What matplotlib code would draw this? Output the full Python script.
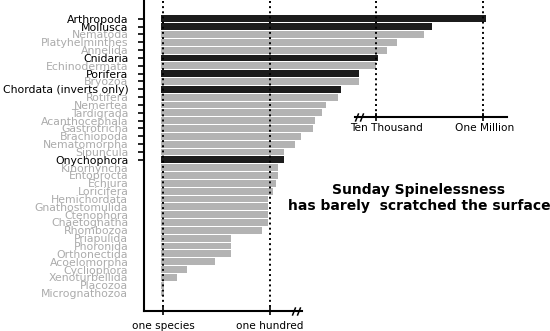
import numpy as np
import matplotlib
matplotlib.use('Agg')
import matplotlib.pyplot as plt
from matplotlib.path import Path

phyla = ['Arthropoda', 'Mollusca', 'Nematoda', 'Platyhelminthes', 'Annelida',
         'Cnidaria', 'Echinodermata', 'Porifera', 'Bryozoa', 'Chordata (inverts only)',
         'Rotifera', 'Nemertea', 'Tardigrada', 'Acanthocephala', 'Gastrotricha',
         'Brachiopoda', 'Nematomorpha', 'Sipuncula', 'Onychophora', 'Kinorhyncha',
         'Entoprocta', 'Echiura', 'Loricifera', 'Hemichordata', 'Gnathostomulida',
         'Ctenophora', 'Chaetognatha', 'Rhombozoa', 'Priapulida', 'Phoronida',
         'Orthonectida', 'Acoelomorpha', 'Cycliophora', 'Xenoturbellida', 'Placozoa',
         'Micrognathozoa']
species = [1160000, 112000, 80000, 25000, 16000,
           10700, 10000, 4800, 4800, 2200,
           1900, 1140, 960, 710, 650,
           380, 300, 186, 186, 141,
           141, 131, 114, 94, 94,
           94, 94, 71, 18.5, 18.5,
           18.5, 9.3, 2.8, 1.8, 1.05,
           1.05]
# PHYLA ALREADY COVERED (DRAWN DARK)
covered = ['Arthropoda', 'Mollusca', 'Cnidaria', 'Porifera',
           'Chordata (inverts only)', 'Onychophora']

DARK = '#1c1c1c'
LIGHT = '#b3b3b3'
BASE = 0.9          # bars start just left of "one species"
N_TICKED = 19       # only the upper rows have tick marks


# TWO SLANTED STROKES USED AS AN AXIS BREAK MARKER
def break_marker():
    verts = [(-2.5, -2.5), (-0.5, 2.5), (0.5, -2.5), (2.5, 2.5)]
    codes = [Path.MOVETO, Path.LINETO, Path.MOVETO, Path.LINETO]
    return Path(verts, codes)


fig = plt.figure(figsize=(5.5, 3.31), dpi=100)
ax = fig.add_axes([0.2624, 0.0613, 0.665, 0.9356])
ax.set_xscale('log')
ax.set_xlim(10 ** -0.356, 10 ** 6.516)

n = len(phyla)
rows = np.arange(n)
top, bottom = -2.27, n + 1.26
ax.set_ylim(bottom, top)

colors = [DARK if p in covered else LIGHT for p in phyla]
ax.barh(rows, np.array(species) - BASE, left=BASE, height=0.88,
        color=colors, zorder=2)

# DOTTED GUIDE LINES
ax.vlines([1, 100], top, bottom, colors='k', linestyles=':', lw=1.4, zorder=3)
upper_axis_row = 12.5
ax.vlines([1e4, 1e6], top, upper_axis_row, colors='k', linestyles=':', lw=1.4, zorder=3)

# SPINES
for side in ['top', 'right']:
    ax.spines[side].set_visible(False)
ax.spines['left'].set_linewidth(1.5)
ax.spines['bottom'].set_linewidth(1.5)
ax.spines['bottom'].set_bounds(ax.get_xlim()[0], 10 ** 2.6)

# Y LABELS
ax.set_yticks(rows, phyla)
ax.tick_params(axis='y', length=4, width=1.2, pad=7.5, labelsize=7.8)
for i, (tick, lab) in enumerate(zip(ax.yaxis.get_major_ticks(), ax.get_yticklabels())):
    lab.set_color('k' if phyla[i] in covered else '#ababab')
    if i >= N_TICKED:
        tick.tick1line.set_visible(False)

# LOWER X AXIS
ax.set_xticks([1, 100], ['one species', 'one hundred'])
ax.xaxis.set_minor_locator(matplotlib.ticker.NullLocator())
ax.tick_params(axis='x', direction='inout', length=6, width=1.2, pad=4.5, labelsize=7.6)
ax.plot([10 ** 2.5], [bottom], marker=break_marker(), ms=6, mew=1.1,
        color='k', clip_on=False, zorder=4)

# UPPER (BROKEN) X AXIS
ax.plot([10 ** 3.6, 10 ** 6.455], [upper_axis_row] * 2, color='k', lw=1.5,
        clip_on=False, zorder=4)
ax.plot([1e4, 1e6], [upper_axis_row] * 2, ls='none', marker='|', ms=6, mew=1.2,
        color='k', zorder=4)
ax.plot([10 ** 3.67], [upper_axis_row], marker=break_marker(), ms=6, mew=1.1,
        color='k', clip_on=False, zorder=4)
ax.text(10 ** 4.2, upper_axis_row + 1.5, 'Ten Thousand', ha='center', va='center',
        fontsize=7.6)
ax.text(10 ** 6.03, upper_axis_row + 1.5, 'One Million', ha='center', va='center',
        fontsize=7.6)

fig.text(419 / 550, 1 - 198 / 331, 'Sunday Spinelessness\nhas barely  scratched the surface',
         ha='center', va='center', fontsize=10, fontweight='bold', linespacing=1.25)

fig.savefig('out.png', dpi=100)
